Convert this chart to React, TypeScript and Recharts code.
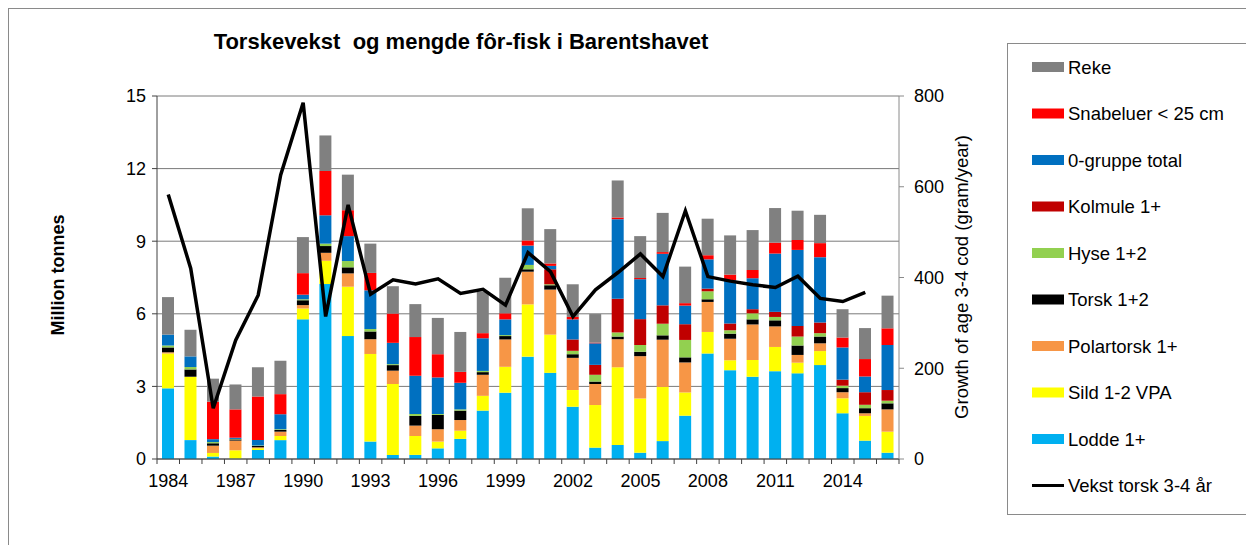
import React from "react";
import {
  ComposedChart,
  Bar,
  Line,
  XAxis,
  YAxis,
  CartesianGrid,
} from "recharts";

const years = [
  1984, 1985, 1986, 1987, 1988, 1989, 1990, 1991, 1992, 1993, 1994, 1995, 1996,
  1997, 1998, 1999, 2000, 2001, 2002, 2003, 2004, 2005, 2006, 2007, 2008, 2009,
  2010, 2011, 2012, 2013, 2014, 2015, 2016,
];

const lodde = [2.92, 0.78, 0.1, 0.02, 0.37, 0.78, 5.77, 7.23, 5.08, 0.72, 0.17, 0.17, 0.44, 0.83, 2.0, 2.74, 4.23, 3.56, 2.16, 0.47, 0.58, 0.26, 0.74, 1.79, 4.36, 3.67, 3.4, 3.63, 3.54, 3.88, 1.89, 0.76, 0.26];
const sild = [1.44, 2.62, 0.15, 0.34, 0.07, 0.17, 0.45, 0.96, 2.04, 3.62, 2.93, 0.78, 0.28, 0.34, 0.61, 1.07, 2.16, 1.58, 0.69, 1.76, 3.21, 2.24, 2.24, 0.96, 0.89, 0.41, 0.69, 1.0, 0.44, 0.58, 0.62, 1.02, 0.87];
const polartorsk = [0.05, 0, 0.3, 0.4, 0.05, 0.18, 0.14, 0.33, 0.55, 0.61, 0.55, 0.43, 0.51, 0.44, 0.87, 1.13, 1.35, 1.86, 1.33, 0.87, 1.16, 1.75, 1.95, 1.24, 1.24, 0.89, 1.47, 0.85, 0.32, 0.32, 0.25, 0.11, 0.92];
const torsk = [0.2, 0.3, 0.1, 0.05, 0.05, 0.07, 0.2, 0.28, 0.25, 0.32, 0.23, 0.4, 0.59, 0.39, 0.11, 0.14, 0.1, 0.18, 0.15, 0.1, 0.11, 0.18, 0.18, 0.21, 0.11, 0.21, 0.21, 0.25, 0.39, 0.28, 0.17, 0.21, 0.25];
const hyse = [0.08, 0.1, 0.05, 0.02, 0.02, 0.03, 0.04, 0.1, 0.26, 0.1, 0.04, 0.08, 0.04, 0.05, 0.05, 0.04, 0.18, 0.04, 0.14, 0.28, 0.17, 0.28, 0.48, 0.72, 0.33, 0.14, 0.25, 0.14, 0.37, 0.14, 0.1, 0.14, 0.11];
const kolmule = [0, 0, 0, 0, 0, 0, 0, 0, 0, 0, 0, 0, 0, 0, 0, 0, 0, 0.62, 0.47, 0.41, 1.39, 1.07, 0.76, 0.65, 0.11, 0.28, 0.17, 0.21, 0.44, 0.44, 0.25, 0.52, 0.44];
const gruppe0 = [0.45, 0.44, 0.12, 0.05, 0.23, 0.62, 0.19, 1.17, 1.03, 1.6, 0.88, 1.58, 1.51, 1.1, 1.35, 0.65, 0.8, 0.14, 0.83, 0.89, 3.29, 1.65, 2.13, 0.77, 1.21, 1.79, 1.28, 2.41, 3.14, 2.7, 1.33, 0.65, 1.86];
const snabeluer = [0, 0, 1.55, 1.17, 1.79, 0.83, 0.89, 1.83, 1.07, 0.72, 1.21, 1.6, 0.96, 0.45, 0.21, 0.25, 0.21, 0.1, 0.1, 0.03, 0.07, 0.05, 0.07, 0.1, 0.17, 0.23, 0.34, 0.45, 0.41, 0.58, 0.41, 0.72, 0.69];
const reke = [1.55, 1.1, 0.95, 1.03, 1.21, 1.38, 1.49, 1.47, 1.47, 1.21, 1.13, 1.36, 1.5, 1.65, 1.72, 1.47, 1.33, 1.42, 1.35, 1.18, 1.53, 1.73, 1.62, 1.51, 1.51, 1.62, 1.65, 1.43, 1.21, 1.17, 1.17, 1.28, 1.35];
// growth of age 3-4 cod, gram/year (no value for 2016)
const vekst = [583, 420, 112, 262, 361, 626, 785, 314, 560, 363, 395, 386, 397, 365, 374, 339, 455, 413, 314, 373, 411, 452, 402, 547, 402, 392, 384, 378, 403, 354, 347, 367, null];

const leftTicks = [0, 3, 6, 9, 12, 15];
const rightTicks = [0, 200, 400, 600, 800];
const labelYears = [1984, 1987, 1990, 1993, 1996, 1999, 2002, 2005, 2008, 2011, 2014];

// stacked bottom -> top
const series = [
  { key: "lodde", name: "Lodde 1+", color: "#00B0F0", values: lodde },
  { key: "sild", name: "Sild 1-2 VPA", color: "#FFFF00", values: sild },
  { key: "polartorsk", name: "Polartorsk 1+", color: "#F79646", values: polartorsk },
  { key: "torsk", name: "Torsk 1+2", color: "#000000", values: torsk },
  { key: "hyse", name: "Hyse 1+2", color: "#92D050", values: hyse },
  { key: "kolmule", name: "Kolmule 1+", color: "#C00000", values: kolmule },
  { key: "gruppe0", name: "0-gruppe total", color: "#0070C0", values: gruppe0 },
  { key: "snabeluer", name: "Snabeluer < 25 cm", color: "#FF0000", values: snabeluer },
  { key: "reke", name: "Reke", color: "#808080", values: reke },
];

const data = years.map((year, i) => {
  const row: Record<string, number | null> = { year, vekst: vekst[i] };
  series.forEach((s) => {
    row[s.key] = s.values[i];
  });
  return row;
});

const FONT = "'Liberation Sans', Arial, sans-serif";
const W = 1246;
const H = 545;
const PLOT_LEFT = 157;
const PLOT_RIGHT = 899;
const PLOT_TOP = 96;
const PLOT_BOTTOM = 459;
const BAND = (PLOT_RIGHT - PLOT_LEFT) / years.length;

function YearTick(props: any) {
  const { x, payload, index } = props;
  const half = BAND / 2;
  const showLabel = labelYears.includes(payload.value);
  return (
    <g>
      <line x1={x - half} x2={x - half} y1={PLOT_BOTTOM} y2={PLOT_BOTTOM + 5} stroke="#404040" />
      {index === years.length - 1 && (
        <line x1={x + half} x2={x + half} y1={PLOT_BOTTOM} y2={PLOT_BOTTOM + 5} stroke="#404040" />
      )}
      {showLabel && (
        <text x={x} y={PLOT_BOTTOM + 28} textAnchor="middle" fontSize={18} fill="#000" fontFamily={FONT}>
          {payload.value}
        </text>
      )}
    </g>
  );
}

const legendRows = [...series].reverse();

export default function App() {
  return (
    <div
      style={{
        position: "fixed",
        left: 0,
        top: 0,
        width: W,
        height: H,
        background: "#fff",
        overflow: "hidden",
        fontFamily: FONT,
      }}
    >
      <div
        style={{
          position: "absolute",
          left: 8,
          top: 8,
          width: 1400,
          height: 800,
          border: "1px solid #8a8a8a",
        }}
      />
      <div style={{ position: "absolute", left: 0, top: 0 }}>
        <ComposedChart
          width={W}
          height={H}
          data={data}
          margin={{ top: PLOT_TOP, right: 0, bottom: 0, left: 0 }}
          barSize={12}
        >
          <CartesianGrid yAxisId="left" vertical={false} stroke="#7a7a7a" />
          <XAxis
            dataKey="year"
            interval={0}
            tickLine={false}
            height={H - PLOT_BOTTOM}
            axisLine={{ stroke: "#404040" }}
            tick={<YearTick />}
          />
          <YAxis
            yAxisId="left"
            width={PLOT_LEFT}
            domain={[0, 15]}
            ticks={leftTicks}
            tickSize={5}
            tickMargin={6}
            axisLine={{ stroke: "#404040" }}
            tickLine={{ stroke: "#404040" }}
            tick={{ fontSize: 18, fill: "#000", fontFamily: FONT }}
          />
          <YAxis
            yAxisId="right"
            orientation="right"
            width={W - PLOT_RIGHT}
            domain={[0, 800]}
            ticks={rightTicks}
            tickSize={5}
            tickMargin={10}
            axisLine={{ stroke: "#8a8a8a" }}
            tickLine={{ stroke: "#8a8a8a" }}
            tick={{ fontSize: 18, fill: "#000", fontFamily: FONT, textAnchor: "start" }}
          />
          {series.map((s) => (
            <Bar
              key={s.key}
              yAxisId="left"
              dataKey={s.key}
              name={s.name}
              stackId="a"
              fill={s.color}
              isAnimationActive={false}
            />
          ))}
          <Line
            yAxisId="right"
            dataKey="vekst"
            name="Vekst torsk 3-4 år"
            stroke="#000"
            strokeWidth={3.5}
            dot={false}
            type="linear"
            isAnimationActive={false}
          />
        </ComposedChart>
      </div>
      <svg
        width={W}
        height={H}
        style={{ position: "absolute", left: 0, top: 0, pointerEvents: "none" }}
      >
        <text
          x={461}
          y={49}
          textAnchor="middle"
          fontSize={22}
          fontWeight="bold"
          fill="#000"
          fontFamily={FONT}
          style={{ whiteSpace: "pre" }}
        >
          {"Torskevekst  og mengde fôr-fisk i Barentshavet"}
        </text>
        <text
          transform="translate(64 275) rotate(-90)"
          textAnchor="middle"
          fontSize={18}
          fontWeight="bold"
          fill="#000"
          fontFamily={FONT}
        >
          Million tonnes
        </text>
        <text
          transform="translate(968 277) rotate(-90)"
          textAnchor="middle"
          fontSize={18.5}
          fill="#000"
          fontFamily={FONT}
        >
          Growth of age 3-4 cod (gram/year)
        </text>
        <rect x={1007.5} y={43.5} width={400} height={471} fill="none" stroke="#8a8a8a" />
        {legendRows.map((s, i) => {
          const cy = 67 + i * 46.5;
          return (
            <g key={s.key}>
              <rect x={1032} y={cy - 5} width={32} height={10} fill={s.color} />
              <text x={1068} y={cy + 6.5} fontSize={18.5} fill="#000" fontFamily={FONT}>
                {s.name}
              </text>
            </g>
          );
        })}
        <line x1={1032} x2={1064} y1={67 + 9 * 46.5} y2={67 + 9 * 46.5} stroke="#000" strokeWidth={3} />
        <text x={1068} y={67 + 9 * 46.5 + 6.5} fontSize={18.5} fill="#000" fontFamily={FONT}>
          Vekst torsk 3-4 år
        </text>
      </svg>
    </div>
  );
}
